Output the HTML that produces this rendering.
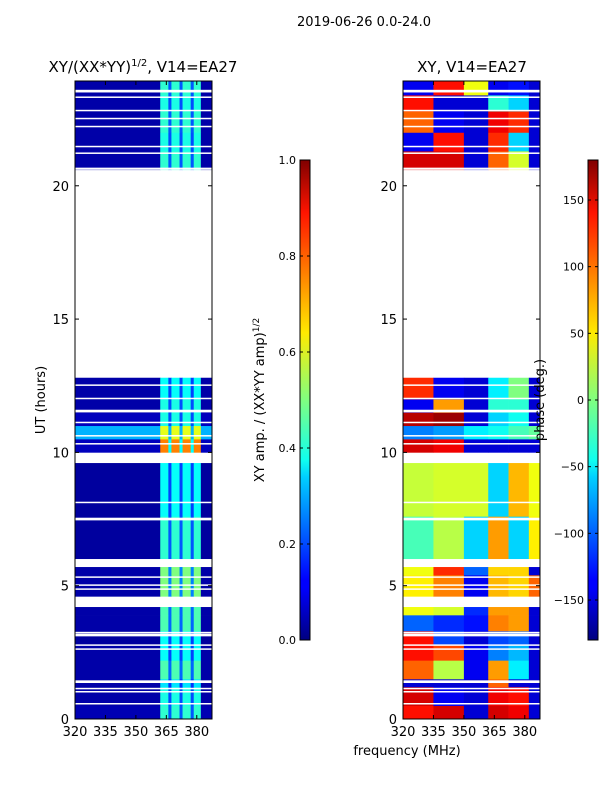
<!DOCTYPE html>
<html><head><meta charset="utf-8"><style>
body{margin:0;background:#fff;}
svg{display:block;font-family:"DejaVu Sans","Liberation Sans",sans-serif;}
</style></head><body>
<svg id="fig" width="600" height="800" xmlns="http://www.w3.org/2000/svg">
<defs>
<linearGradient id="jet" x1="0" y1="1" x2="0" y2="0">
<stop offset="0" stop-color="#000080"/><stop offset="0.11" stop-color="#0000ff"/><stop offset="0.125" stop-color="#0000ff"/>
<stop offset="0.34" stop-color="#00d0ff"/><stop offset="0.375" stop-color="#10ffef"/><stop offset="0.5" stop-color="#80ff80"/>
<stop offset="0.64" stop-color="#ffea00"/><stop offset="0.89" stop-color="#ff1400"/><stop offset="1" stop-color="#800000"/>
</linearGradient>
</defs>
<text x="364" y="26" font-size="13" text-anchor="middle">2019-06-26 0.0-24.0</text>
<g id="p1"></g>
<g id="p2"></g>
<text x="143" y="72" font-size="15" text-anchor="middle">XY/(XX*YY)<tspan font-size="10" dy="-6">1/2</tspan><tspan dy="6">, V14=EA27</tspan></text>
<text x="472" y="72" font-size="15" text-anchor="middle">XY, V14=EA27</text>
<text x="407" y="755" font-size="13" text-anchor="middle">frequency (MHz)</text>
<text transform="translate(45,400) rotate(-90)" font-size="13" text-anchor="middle">UT (hours)</text>
<text transform="translate(264,400) rotate(-90)" font-size="13" text-anchor="middle">XY amp. / (XX*YY amp)<tspan font-size="9" dy="-5">1/2</tspan></text>
<g id="cb1"></g>
<g id="cb2"></g>
<text transform="translate(544,400) rotate(-90)" font-size="13" text-anchor="middle">phase (deg.)</text>
</svg>
<script>
const timeEdges=[0,0.5,1.2,1.5,2.2,2.8,3.3,3.9,4.2,4.6,5.4,5.9,7.6,9.6,10.0,10.5,11.0,11.5,12.0,12.8,20.6,21.3,22.0,22.8,23.4,23.93];
const present=[1,1,1,1,1,1,1,1,0,1,1,1,1,0,1,1,1,1,1,0,1,1,1,1,1];
const ampFreqEdges=[320,362,366,367.5,371.5,373,377,378.5,382,387.5];
const ampBg=[0.05,0.04,0.04,0.04,0.04,0.03,0.04,0.04,0,0.04,0.04,0.03,0.03,0,0.06,0.3,0.06,0.04,0.04,0,0.04,0.04,0.04,0.04,0.04];
const ampBand=[0.42,0.4,0.35,0.45,0.38,0.38,0.45,0.45,0,0.5,0.5,0.42,0.38,0,0.75,0.6,0.4,0.4,0.38,0,0.42,0.4,0.42,0.4,0.42];
const phaseFreqEdges=[320,335,350,362,372,382,387.5];
const phaseVals=[
[130,150,-150,150,140,-150],[150,-140,-150,140,130,-150],[-150,-150,-150,100,-150,-150],
[100,20,-140,80,-50,-150],[130,110,-140,-90,-70,-150],[130,-110,-150,-110,-100,-150],
[-100,-120,-130,90,80,-150],[40,30,-120,80,80,-150],[0,0,0,0,0,0],
[50,90,-140,70,60,100],[40,120,-100,60,60,-150],[-20,20,-60,80,-60,50],
[25,30,30,-60,70,40],[0,0,0,0,0,0],[150,140,-150,-150,-150,-150],
[-90,-80,-50,-40,-20,-10],[160,170,-150,-60,-40,-150],[-140,80,-150,-30,-30,-150],
[120,-140,-150,-50,0,-150],[0,0,0,0,0,0],[150,150,-150,100,30,-150],
[-140,130,-150,120,-60,-150],[100,-140,-150,140,120,-150],[130,-150,-150,-30,-60,-150],
[-140,130,40,-140,-130,-150]];
const gapStart=[0.55,1.0,1.12,1.35,2.6,2.75,3.1,3.22,4.85,5.0,5.3,5.7,7.45,8.1,10.3,10.6,11.1,11.5,12.0,12.5,20.6,21.2,21.45,22.2,22.5,22.8,23.3,23.5];
const gapLen=[0.05,0.05,0.05,0.1,0.05,0.05,0.1,0.05,0.05,0.05,0.05,0.3,0.1,0.05,0.05,0.05,0.05,0.1,0.05,0.05,0.08,0.05,0.05,0.05,0.05,0.05,0.05,0.1];
const yTicks=[0,5,10,15,20];
const xTicks=[320,335,350,365,380];
const cb1Ticks=[0.0,0.2,0.4,0.6,0.8,1.0];
const cb2Ticks=[-150,-100,-50,0,50,100,150];

const NS="http://www.w3.org/2000/svg";
function jet(v){v=Math.max(0,Math.min(1,v));
 const r=Math.max(0,Math.min(1,1.5-Math.abs(4*v-3))),g=Math.max(0,Math.min(1,1.5-Math.abs(4*v-2))),b=Math.max(0,Math.min(1,1.5-Math.abs(4*v-1)));
 return `rgb(${Math.round(r*255)},${Math.round(g*255)},${Math.round(b*255)})`;}
function mk(p,t,a){const e=document.createElementNS(NS,t);for(const k in a)e.setAttribute(k,a[k]);p.appendChild(e);return e;}
const T=81,B=719,H0=0,H1=23.93;
const yS=h=>B-(h-H0)/(H1-H0)*(B-T);
function panel(g,L,R,freqEdges,valFn){
 const xS=f=>L+(f-320)/(387.5-320)*(R-L);
 for(let i=0;i<timeEdges.length-1;i++){ if(!present[i])continue;
  for(let j=0;j<freqEdges.length-1;j++){
   const c=mk(g,'rect',{x:xS(freqEdges[j]),y:yS(timeEdges[i+1]),width:xS(freqEdges[j+1])-xS(freqEdges[j])+0.3,height:yS(timeEdges[i])-yS(timeEdges[i+1])+0.3,fill:valFn(i,j)});
   
   
  }}
 for(let k=0;k<gapStart.length;k++){
  const r=mk(g,'rect',{x:L,y:yS(gapStart[k]+gapLen[k]),width:R-L,height:Math.max(1.5,yS(gapStart[k])-yS(gapStart[k]+gapLen[k])),fill:'#fff'});
  
  
 }
 mk(g,'rect',{x:L,y:T,width:R-L,height:B-T,fill:'none',stroke:'#000','stroke-width':1});
 yTicks.forEach(t=>{const y=yS(t);mk(g,'line',{x1:L,x2:L+4,y1:y,y2:y,stroke:'#000'});mk(g,'line',{x1:R-4,x2:R,y1:y,y2:y,stroke:'#000'});
  const tx=mk(g,'text',{x:L-6,y:y+5,'font-size':13,'text-anchor':'end'});tx.textContent=t;
  
  });
 xTicks.forEach(t=>{const x=xS(t);mk(g,'line',{x1:x,x2:x,y1:B,y2:B-4,stroke:'#000'});mk(g,'line',{x1:x,x2:x,y1:T,y2:T+4,stroke:'#000'});
  const tx=mk(g,'text',{x:x,y:B+17,'font-size':13,'text-anchor':'middle'});tx.textContent=t;
  
  });
}
const ampCol=(i,j)=>{
 if(j==0||j==8)return jet(ampBg[i]);
 const dim=[1,1,0.5,1,0.5,1,0.5,1,1][j];
 return jet(Math.max(ampBg[i],ampBand[i]*dim));};
panel(document.getElementById('p1'),75,212,ampFreqEdges,ampCol);
panel(document.getElementById('p2'),403,540,phaseFreqEdges,(i,j)=>jet((phaseVals[i][j]+180)/360));
function cbar(g,x,ticks,lo,hi,fmt){
 const t=160,b=640;
 mk(g,'rect',{x:x,y:t,width:10,height:b-t,fill:'url(#jet)',stroke:'#000','stroke-width':1});
 ticks.forEach(v=>{const y=b-(v-lo)/(hi-lo)*(b-t);mk(g,'line',{x1:x,x2:x+3,y1:y,y2:y,stroke:'#000'});mk(g,'line',{x1:x+7,x2:x+10,y1:y,y2:y,stroke:'#000'});
  const tx=mk(g,'text',{x:x-4,y:y+4,'font-size':11,'text-anchor':'end'});tx.textContent=fmt(v);
  
  });
}
cbar(document.getElementById('cb1'),300,cb1Ticks,0,1,v=>v.toFixed(1));
cbar(document.getElementById('cb2'),588,cb2Ticks,-180,180,v=>v<0?'\u2212'+(-v):''+v);
</script>
</body></html>
